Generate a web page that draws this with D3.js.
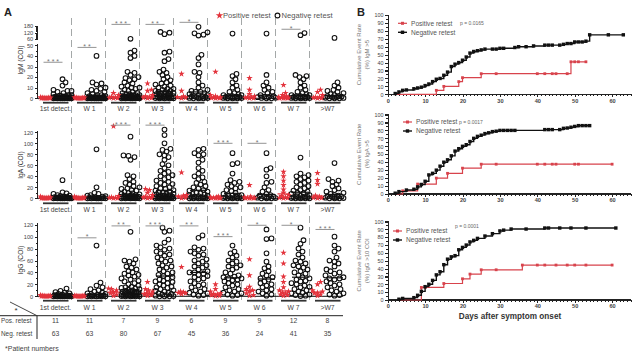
<!DOCTYPE html>
<html>
<head>
<meta charset="utf-8">
<script src="https://d3js.org/d3.v7.min.js"></script>
<style>
 body { margin:0; background:#fff; }
 text { font-family: "Liberation Sans", Arial, sans-serif; }
 .axis path, .axis line { stroke:#222; shape-rendering:crispEdges; }
 .axis text { font-family: "Liberation Sans", Arial, sans-serif; fill:#444; }
</style>
</head>
<body>
<div id="chart"></div>
<script>
// ---- panel A data ----
var groups = ["1st detect.", "W 1", "W 2", "W 3", "W 4", "W 5", "W 6", "W 7", ">W7"];
var posRetest = [11, 11, 7, 9, 6, 9, 9, 12, 8];
var negRetest = [63, 63, 80, 67, 45, 36, 24, 41, 35];

var igmPos = [
  [1,0.8,0.5,0.5,0.3,0.2,0,0,0,0,0],
  [1,0.8,0.5,0.4,0.2,0,0,0,0,0,0],
  [5,3,1.5,1,0.5,0.2,0],
  [14,8,7,3,2,1,0.5,0.3,0],
  [23,7,2,1,0.5,0],
  [25,3,2,1,1,0.5,0.3,0,0],
  [19,8,4,2,1,1,0.5,0,0],
  [12.5,5,3,2,1,1,0.8,0.5,0.3,0,0,0],
  [8,6,3,1,1,0.5,0,0]
];
var igmNeg = [
  [18,15,12,8,7,7,6,5,4,3,3,2.5,2,2,1.5,1.5,1.2,1,1,1,0.8,0.8,0.6,0.5,0.5,0.4,0.4,0.3,0.3,0.2,0.2,0.2,0.1,0.1,0.1,0,0,0,0,0,0,0,0],
  [40,15,14,13,10,9,8,7,6,5,4,3,3,2,2,1.5,1,1,1,0.8,0.6,0.5,0.5,0.4,0.3,0.3,0.2,0.2,0.1,0.1,0,0,0,0,0,0,0,0],
  [62,45,43,40,38,25,24,22,20,19,18,17,15,14,12,11,10,10,9,8,7,6,5,5,4,4,3,3,3,2.5,2,2,2,1.5,1.5,1.2,1,1,1,0.8,0.8,0.6,0.5,0.5,0.4,0.3,0.3,0.2,0.2,0.1,0.1,0,0,0,0,0,0],
  [125,118,105,44,43,37,35,27,25,24,22,20,18,17,15,14,13,12,11,10,9,9,8,7,7,6,6,5,5,5,4,4,3,3,3,2,2,2,1.5,1,1,1,0.5,0.5,0.3,0.2,0.1,0,0,0],
  [172,122,112,100,92,41,38,32,25,24,20,15,12,10,8,7,6,6,5,4,3,3,2,2,1.5,1,1,0.5,0.3,0.2,0,0,0],
  [110,23,21,18,15,12,10,8,6,5,4,3,3,2,2,1.5,1,1,0.8,0.5,0.3,0.2,0,0,0],
  [110,22,15,12,10,8,6,5,3,2,1.5,1,1,0.5,0.3,0,0],
  [115,95,22,21,20,18,15,12,10,8,6,5,4,3,3,2,2,1.5,1,1,0.8,0.5,0.3,0.2,0,0,0],
  [70,15,12,10,8,7,6,5,4,3,2,2,1.5,1,1,0.5,0.3,0,0,0]
];
var igaPos = [
  [3,2,1,1,0.5,0.5,0,0,0,0,0],
  [3,2,1,1,0.5,0,0,0,0,0,0],
  [131,4,2,1,1,0,0],
  [17,15,10,6,3,2,1,0.5,0],
  [47,6,5,3,1,0],
  [3,2,2,1,1,0.5,0,0,0],
  [24,3,2,1,1,0.5,0,0,0],
  [48,40,32,24,16,10,6,4,2,1,0.5,0],
  [46,33,26,5,3,1,0.5,0]
];
var igaNeg = [
  [33,11,9,8,6,5,4,3,3,2,2,1.5,1,1,1,0.5,0.5,0.3,0.2,0,0,0,0,0,0,0,0],
  [89,20,10,8,6,5,4,3,2,2,1,1,0.5,0.5,0.3,0,0,0,0,0,0],
  [112,78,77,75,70,42,40,35,30,28,25,22,20,18,17,15,14,12,10,9,8,7,6,5,5,4,4,3,3,2,2,2,1,1,1,0.5,0.5,0.3,0,0,0,0,0],
  [125,115,100,90,88,85,80,78,75,70,62,60,55,50,48,45,42,40,38,35,32,30,28,26,25,22,20,18,17,15,14,12,11,10,9,8,7,6,5,4,3,3,2,2,1,1,0.5,6,5,4,3,2,1,0.5,0,0,0,0,0,0],
  [90,88,82,80,78,70,65,55,50,45,40,38,35,30,28,25,22,20,18,15,14,12,10,9,8,7,6,5,4,3,2,2,1,1,0.5,0,0,0,0,0],
  [82,64,62,45,33,30,28,25,22,20,18,15,13,10,8,6,5,4,3,2,2,1,1,0.5,0,0,0,0],
  [82,55,52,40,30,28,20,15,12,8,6,5,3,2,1,1,0.5,0,0,0],
  [74,45,42,40,38,35,32,30,28,25,22,20,18,15,14,12,10,9,8,6,5,4,3,2,2,1,1,0.5,0,0,0,0],
  [64,35,32,30,25,22,18,15,12,10,8,6,5,4,3,2,1,1,0.5,0,0,0]
];
var iggPos = [
  [2,1,1,0.5,0.5,0,0,0,0,0,0],
  [1,1,0.5,0.5,0,0,0,0,0,0,0],
  [13,12,10,7,5,3,1],
  [24,12,10,8,5,4,3,2,1],
  [49,8,7,6,5,4],
  [20,12,8,5,4,3,2,1,0.5],
  [62,35,16,12,10,8,5,2,1],
  [73,55,33,24,15,10,8,6,5,3,2,1],
  [24,20,10,8,6,5,3,1]
];
var iggNeg = [
  [13,9,7,6,5,4,3,2,2,1.5,1,1,0.8,0.5,0.5,0.3,0.2,0,0,0,0,0,0,0,0],
  [85,23,18,15,12,10,8,6,5,4,3,2,1.5,1,1,0.5,0.3,0,0,0,0,0],
  [108,62,60,58,55,50,48,45,42,40,38,36,35,33,30,28,26,25,22,20,18,16,15,14,13,12,11,10,9,8,8,7,7,6,6,5,5,4,4,3,3,2,2,2,1,1,1,0.5,0.5,0,0,0,0],
  [115,110,108,95,90,85,82,80,78,75,72,70,68,65,62,60,58,55,52,50,48,45,42,40,38,36,34,32,30,28,26,25,24,22,20,18,16,15,14,12,10,9,8,6,5,4,3,2,1,0.5,0,0,0],
  [102,98,82,80,78,75,72,70,68,62,60,58,55,52,50,48,45,42,40,40,38,36,34,32,30,28,25,22,20,18,15,12,10,8,6,5,3,2,1],
  [85,75,72,68,65,60,58,55,52,50,48,45,40,38,35,33,32,30,30,28,27,25,22,20,18,15,12,10,8,6,5,3,2,1],
  [112,97,96,72,58,50,47,42,38,35,32,30,28,25,22,20,18,15,12,10,8,5,3,1],
  [115,94,88,80,75,70,65,60,58,55,52,50,48,45,42,40,38,35,32,30,28,26,25,22,20,18,16,15,12,10,8,6,5,3,2,1,0.5],
  [100,85,80,75,65,60,58,55,50,45,42,40,38,35,32,30,30,28,25,22,20,18,15,12,10,8,5,3,2,1]
];
// significance: [group index, number of stars, bracket level in COI]
var igmStars = [[0,3,34],[1,2,48],[2,3,195],[3,2,195],[4,1,214],[7,1,150]];
var igaStars = [[2,3,133],[3,3,133],[5,3,100],[6,1,100]];
var iggStars = [[1,1,98],[2,2,118],[3,3,118],[4,2,118],[5,3,100],[6,1,119],[7,1,119],[8,3,112]];

// ---- panel B data (days after onset, cumulative %) ----
var igmNegDay = [2,3,4,5,7,8,9,10,11,12,13,14,15,16,17,18,19,20,21,22,23,24,25,26,28,29,30,31,34,35,37,39,42,43,44,46,47,48,49,50,51,52,53,54,59,63];
var igmNegPct = [1,3,5,5.5,7,8,9,11,13,16,19,20,24,28,35,38,40,43,47,52,54,55,56,57,57,57,58,58,59,60,60,61,62,62,62,62,63,64,64,66,66,66,67,75,75,75];
var igmPosDay = [2,13,15,19,20,25,29,40,42,44,45,48,49,50,51,53];
var igmPosPct = [0,5,10,16,21,26,26,26,26,26,26,26,41,41,41,41];

var igaNegDay = [2,3,5,7,8,9,10,11,12,13,14,15,16,17,18,19,20,21,22,23,24,25,26,27,28,29,30,31,32,33,34,42,43,44,46,47,48,49,50,51,52,53,54];
var igaNegPct = [1,3,5,6,9,12,16,24,26,30,35,40,43,48,54,57,60,62,66,70,72.5,74,76,77,78.5,79,80,80,80,80,80,81,81,81,81,82.6,83,84,85,86,86,86,86];
var igaPosDay = [2,4,8,13,16,20,25,29,40,42,44,45,50,51,60];
var igaPosPct = [0,4,12.5,20,26,32.5,37.5,37.5,37.5,37.5,37.5,37.5,37.5,37.5,37.5];

var iggNegDay = [3,4,7,8,9,10,11,12,13,14,15,16,17,18,19,20,21,22,23,24,26,28,30,31,33,37,42,43,46,49,53,61];
var iggNegPct = [1,2,3,6,11,17,20,25,32,36,45,52,55,56.5,64,67,70,74,76,78.5,81.5,84.5,88,89,90.4,90.4,91.7,91.7,91.7,91.7,91.7,91.7];
var iggPosDay = [3,9,10,15,20,22,25,29,36,40,42,45,48,50,53,60];
var iggPosPct = [0,16,16,21,27,33,38.5,38.5,44.5,44.5,44.5,44.5,44.5,44.5,44.5,44.5];

var RED = "#e3333c";
var KMRED = "#d8434c";

var svg = d3.select("#chart").append("svg")
  .attr("width", 640).attr("height", 353);

// ================= panel A =================
var x = d3.scaleBand().domain(groups).range([37.5, 343.5]);
var bw = x.bandwidth();

var igmLo = d3.scaleLinear().domain([0, 50]).range([98.3, 45.3]);
var igmHi = d3.scaleLinear().domain([60, 180]).range([39, 26]);
function yIgM(v) { return v <= 55 ? igmLo(v) : igmHi(v); }
var yIgA = d3.scaleLinear().domain([0, 120]).range([198.3, 132.3]);
var yIgG = d3.scaleLinear().domain([0, 120]).range([296.3, 224.7]);

var rows = [
  {pos: igmPos, neg: igmNeg, stars: igmStars, y: yIgM, y0: 98.3, ul: 102.7, lbl: 110.8, name: "IgM (COI)", nameY: 60},
  {pos: igaPos, neg: igaNeg, stars: igaStars, y: yIgA, y0: 198.3, ul: 203.3, lbl: 211.5, name: "IgA (COI)", nameY: 165},
  {pos: iggPos, neg: iggNeg, stars: iggStars, y: yIgG, y0: 296.3, ul: 300.7, lbl: 309.8, name: "IgG (COI)", nameY: 260}
];

svg.append("text").attr("x", 4).attr("y", 16).attr("font-size", 11)
  .attr("font-weight", "bold").attr("fill", "#222").text("A");

// dashed separators
svg.selectAll(".sep").data(groups.slice(1)).enter().append("line")
  .attr("x1", function(d) { return x(d); }).attr("x2", function(d) { return x(d); })
  .attr("y1", 18).attr("y2", 303)
  .attr("stroke", "#a4a8a8").attr("stroke-width", 1).attr("stroke-dasharray", "7,4");

// legend
svg.append("path").attr("d", d3.symbol().type(d3.symbolStar).size(18)())
  .attr("transform", "translate(219.5,15.5)").attr("fill", RED);
svg.append("text").attr("x", 223).attr("y", 18.2).attr("font-size", 7.6)
  .attr("fill", "#555").text("Positive retest");
svg.append("circle").attr("cx", 277.5).attr("cy", 15.5).attr("r", 2.4)
  .attr("fill", "none").attr("stroke", "#111").attr("stroke-width", 1.1);
svg.append("text").attr("x", 281.5).attr("y", 18.2).attr("font-size", 7.6)
  .attr("fill", "#555").text("Negative retest");

function swarm(vals, y, cx, dmin, maxW) {
  var pts = vals.map(function(v) { return {v: v, y: y(v)}; })
    .sort(function(a, b) { return b.y - a.y; });
  var placed = [];
  pts.forEach(function(p) {
    var best = 0, bestD = -1;
    for (var k = 0; k <= 2 * maxW; k++) {
      var off = (k % 2 ? 1 : -1) * Math.ceil(k / 2);
      var minD = Infinity;
      placed.forEach(function(q) {
        var d = Math.hypot(q.x - (cx + off), q.y - p.y);
        if (d < minD) minD = d;
      });
      if (minD >= dmin) { best = off; bestD = minD; break; }
      if (minD > bestD) { bestD = minD; best = off; }
    }
    p.x = cx + best;
    placed.push(p);
  });
  return placed;
}

rows.forEach(function(row, ri) {
  var g = svg.append("g");

  // y axis
  if (ri === 0) {
    g.append("g").attr("class", "axis").attr("transform", "translate(37.7,0)")
      .call(d3.axisLeft(igmLo).tickValues([0,10,20,30,40,50]).tickSize(3).tickPadding(1.5))
      .call(function(a) { a.selectAll("text").attr("font-size", 5.6); a.select(".domain").attr("d", "M0,98.3V44.3"); });
    g.append("g").attr("class", "axis").attr("transform", "translate(37.7,0)")
      .call(d3.axisLeft(igmLo).tickValues([5,15,25,35,45]).tickSize(1.6).tickFormat(""))
      .call(function(a) { a.select(".domain").remove(); });
    g.append("g").attr("class", "axis").attr("transform", "translate(37.7,0)")
      .call(d3.axisLeft(igmHi).tickValues([60,120,180]).tickSize(3).tickPadding(1.5))
      .call(function(a) { a.selectAll("text").attr("font-size", 5.6); a.select(".domain").attr("d", "M0,40V25.5"); });
    g.append("g").attr("class", "axis").attr("transform", "translate(37.7,0)")
      .call(d3.axisLeft(igmHi).tickValues([70,80,90,100,110,130,140,150,160,170]).tickSize(1.6).tickFormat(""))
      .call(function(a) { a.select(".domain").remove(); });
  } else {
    g.append("g").attr("class", "axis").attr("transform", "translate(37.7,0)")
      .call(d3.axisLeft(row.y).tickValues([0,20,40,60,80,100,120]).tickSize(3).tickPadding(1.5))
      .call(function(a) {
        a.selectAll("text").attr("font-size", 5.6);
        a.select(".domain").attr("d", "M0," + row.y(0) + "V" + (row.y(120) - 1.5));
      });
    g.append("g").attr("class", "axis").attr("transform", "translate(37.7,0)")
      .call(d3.axisLeft(row.y).tickValues([10,30,50,70,90,110]).tickSize(1.6).tickFormat(""))
      .call(function(a) { a.select(".domain").remove(); });
  }
  g.append("text")
    .attr("transform", "translate(23," + row.nameY + ") rotate(-90)")
    .attr("text-anchor", "middle").attr("font-size", 6.6).attr("fill", "#333")
    .text(row.name);

  // baseline
  g.append("line").attr("x1", 37.7).attr("x2", 343).attr("y1", row.y0).attr("y2", row.y0)
    .attr("stroke", "#111").attr("stroke-width", 1);

  // group underline and labels
  g.selectAll(".ul").data(groups).enter().append("line")
    .attr("x1", function(d) { return x(d) + 5.5; }).attr("x2", function(d) { return x(d) + bw - 3; })
    .attr("y1", row.ul).attr("y2", row.ul).attr("stroke", "#333").attr("stroke-width", 1.8);
  g.selectAll(".gl").data(groups).enter().append("text")
    .attr("x", function(d) { return x(d) + bw / 2 + 1; }).attr("y", row.lbl)
    .attr("text-anchor", "middle").attr("font-size", 6.8).attr("fill", "#444")
    .text(function(d) { return d; });

  groups.forEach(function(gname, gi) {
    var cx = x(gname) + bw / 2;
    var rx = cx - 9, kx = cx + 8;

    // black open circles (negative retest)
    var neg = swarm(row.neg[gi], row.y, kx, 4.3, 9);
    g.selectAll(null).data(neg).enter().append("circle")
      .attr("cx", function(d) { return d.x; }).attr("cy", function(d) { return d.y; })
      .attr("r", 2.35).attr("fill", "none").attr("stroke", "#111").attr("stroke-width", 1.05);

    // red stars (positive retest)
    var pos = swarm(row.pos[gi], row.y, rx, 3.2, 5);
    g.selectAll(null).data(pos).enter().append("path")
      .attr("d", d3.symbol().type(d3.symbolStar).size(13)())
      .attr("transform", function(d) { return "translate(" + d.x + "," + d.y + ")"; })
      .attr("fill", RED);

    // medians
    var mn = row.y(d3.median(row.neg[gi]));
    g.append("line").attr("x1", kx - 8.5).attr("x2", kx + 8.5).attr("y1", mn).attr("y2", mn)
      .attr("stroke", "#111").attr("stroke-width", 1.2);
    var mp = row.y(d3.median(row.pos[gi]));
    g.append("line").attr("x1", rx - 6).attr("x2", rx + 6).attr("y1", mp).attr("y2", mp)
      .attr("stroke", RED).attr("stroke-width", 1.2);
  });

  // significance brackets
  row.stars.forEach(function(s) {
    var cx = x(groups[s[0]]) + bw / 2;
    var ly = row.y(s[2]);
    g.append("line").attr("x1", cx - 11).attr("x2", cx + 8).attr("y1", ly).attr("y2", ly)
      .attr("stroke", "#888").attr("stroke-width", 0.9);
    g.append("text").attr("x", cx - 1.5).attr("y", ly + 1.5)
      .attr("text-anchor", "middle").attr("font-size", 7).attr("fill", "#777")
      .text(d3.range(s[1]).map(function() { return "*"; }).join(" "));
  });
});

// table of patient numbers
var tbl = svg.append("g");
tbl.append("line").attr("x1", 0).attr("x2", 343).attr("y1", 315.7).attr("y2", 315.7)
  .attr("stroke", "#222").attr("stroke-width", 1);
tbl.append("line").attr("x1", 37).attr("x2", 37).attr("y1", 315.7).attr("y2", 339)
  .attr("stroke", "#222").attr("stroke-width", 1);
tbl.append("line").attr("x1", 10).attr("x2", 37).attr("y1", 302).attr("y2", 315.7)
  .attr("stroke", "#333").attr("stroke-width", 0.9);
tbl.append("text").attr("x", 14.5).attr("y", 313).attr("font-size", 8).attr("fill", "#333").text("*");
tbl.append("text").attr("x", 1).attr("y", 322.8).attr("font-size", 6.4).attr("fill", "#444").text("Pos. retest");
tbl.append("text").attr("x", 1).attr("y", 335.8).attr("font-size", 6.4).attr("fill", "#444").text("Neg. retest");
tbl.selectAll(".pn").data(posRetest).enter().append("text")
  .attr("x", function(d, i) { return x(groups[i]) + bw / 2 + 1; }).attr("y", 322.8)
  .attr("text-anchor", "middle").attr("font-size", 6.8).attr("fill", "#444")
  .text(function(d) { return d; });
tbl.selectAll(".nn").data(negRetest).enter().append("text")
  .attr("x", function(d, i) { return x(groups[i]) + bw / 2 + 1; }).attr("y", 335.8)
  .attr("text-anchor", "middle").attr("font-size", 6.8).attr("fill", "#444")
  .text(function(d) { return d; });
tbl.append("text").attr("x", 5).attr("y", 350.8).attr("font-size", 7).attr("fill", "#444")
  .text("*Patient numbers");

// ================= panel B =================
svg.append("text").attr("x", 357).attr("y", 16).attr("font-size", 11)
  .attr("font-weight", "bold").attr("fill", "#222").text("B");

var xd = d3.scaleLinear().domain([0, 65]).range([387.7, 630.8]);

var plots = [
  {y0: 94.3, y1: 15, lab: "(%) IgM >5", p: "p = 0.0165", legX: 398, legY: 23.3, pX: 460,
   negD: igmNegDay, negP: igmNegPct, posD: igmPosDay, posP: igmPosPct, xLabel: false},
  {y0: 194, y1: 114.5, lab: "(%) IgA >5", p: "p = 0.0017", legX: 403, legY: 122, pX: 459,
   negD: igaNegDay, negP: igaNegPct, posD: igaPosDay, posP: igaPosPct, xLabel: false},
  {y0: 300, y1: 221.5, lab: "(%) IgG >10 COI", p: "p = 0.0001", legX: 393, legY: 231, pX: 455,
   negD: iggNegDay, negP: iggNegPct, posD: iggPosDay, posP: iggPosPct, xLabel: true}
];

plots.forEach(function(pl) {
  var y = d3.scaleLinear().domain([0, 100]).range([pl.y0, pl.y1]);
  var g = svg.append("g");

  g.append("g").attr("class", "axis").attr("transform", "translate(387.7,0)")
    .call(d3.axisLeft(y).tickValues(d3.range(0, 101, 10)).tickSize(3).tickPadding(1.2))
    .call(function(a) { a.selectAll("text").attr("font-size", 5.4); a.selectAll("path,line").attr("stroke-width", 1.1); });
  g.append("g").attr("class", "axis").attr("transform", "translate(387.7,0)")
    .call(d3.axisLeft(y).tickValues(d3.range(5, 100, 10)).tickSize(1.6).tickFormat(""))
    .call(function(a) { a.select(".domain").remove(); });

  g.append("g").attr("class", "axis").attr("transform", "translate(0," + pl.y0 + ")")
    .call(d3.axisBottom(xd).tickValues(d3.range(0, 61, 10)).tickSize(3).tickPadding(1.5))
    .call(function(a) {
      a.selectAll("text").attr("font-size", 5.6).attr("font-weight", "bold").attr("fill", "#333");
      a.select(".domain").attr("d", "M387.7,0H630.8").attr("stroke-width", 1.3);
    });
  g.append("g").attr("class", "axis").attr("transform", "translate(0," + pl.y0 + ")")
    .call(d3.axisBottom(xd).tickValues(d3.range(0, 66, 1)).tickSize(2).tickFormat(""))
    .call(function(a) { a.select(".domain").remove(); });

  var cy = (pl.y0 + pl.y1) / 2;
  g.append("text").attr("transform", "translate(361," + cy + ") rotate(-90)")
    .attr("text-anchor", "middle").attr("font-size", 6).attr("fill", "#777")
    .text("Cumulative Event Rate");
  g.append("text").attr("transform", "translate(369," + cy + ") rotate(-90)")
    .attr("text-anchor", "middle").attr("font-size", 6).attr("fill", "#777")
    .text(pl.lab);

  var line = d3.line().curve(d3.curveStepAfter)
    .x(function(d) { return xd(d[0]); }).y(function(d) { return y(d[1]); });

  var neg = pl.negD.map(function(d, i) { return [d, pl.negP[i]]; });
  var pos = pl.posD.map(function(d, i) { return [d, pl.posP[i]]; });

  g.append("path").attr("d", line(pos)).attr("fill", "none")
    .attr("stroke", KMRED).attr("stroke-width", 1.2);
  g.selectAll(null).data(pos.slice(1)).enter().append("rect")
    .attr("x", function(d) { return xd(d[0]) - 1.4; }).attr("y", function(d) { return y(d[1]) - 1.4; })
    .attr("width", 2.8).attr("height", 2.8).attr("fill", KMRED);

  g.append("path").attr("d", line(neg)).attr("fill", "none")
    .attr("stroke", "#111").attr("stroke-width", 1.4);
  g.selectAll(null).data(neg).enter().append("rect")
    .attr("x", function(d) { return xd(d[0]) - 1.7; }).attr("y", function(d) { return y(d[1]) - 1.7; })
    .attr("width", 3.4).attr("height", 3.4).attr("fill", "#111");

  // legend
  g.append("line").attr("x1", pl.legX).attr("x2", pl.legX + 9).attr("y1", pl.legY).attr("y2", pl.legY)
    .attr("stroke", KMRED).attr("stroke-width", 1.2);
  g.append("rect").attr("x", pl.legX + 3).attr("y", pl.legY - 1.5).attr("width", 3).attr("height", 3).attr("fill", KMRED);
  g.append("text").attr("x", pl.legX + 13).attr("y", pl.legY + 2.3).attr("font-size", 6.6)
    .attr("fill", "#555").text("Positive retest");
  g.append("line").attr("x1", pl.legX).attr("x2", pl.legX + 9).attr("y1", pl.legY + 9).attr("y2", pl.legY + 9)
    .attr("stroke", "#111").attr("stroke-width", 1.4);
  g.append("rect").attr("x", pl.legX + 2.8).attr("y", pl.legY + 7.3).attr("width", 3.4).attr("height", 3.4).attr("fill", "#111");
  g.append("text").attr("x", pl.legX + 13).attr("y", pl.legY + 11.3).attr("font-size", 6.6)
    .attr("fill", "#555").text("Negative retest");
  g.append("text").attr("x", pl.pX).attr("y", pl.legY + (pl.xLabel ? -3.5 : 1.5)).attr("font-size", 5)
    .attr("fill", "#666").text(pl.p);

  if (pl.xLabel) {
    g.append("text").attr("x", 510).attr("y", 318.5).attr("text-anchor", "middle")
      .attr("font-size", 8.2).attr("font-weight", "bold").attr("fill", "#333")
      .text("Days after symptom onset");
  }
});
</script>
</body>
</html>
